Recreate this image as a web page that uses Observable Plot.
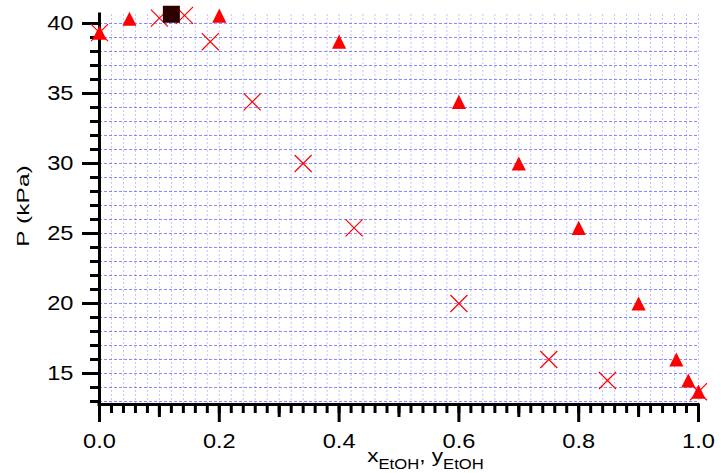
<!DOCTYPE html>
<html><head><meta charset="utf-8">
<script src="https://cdn.jsdelivr.net/npm/d3@7"></script>
<script src="https://cdn.jsdelivr.net/npm/@observablehq/plot@0.6"></script>
<style>body{margin:0;background:#fff}</style>
</head><body><div id="chart"></div>
<script>
// liquid composition x_EtOH (crosses)
const liquidX = [0, 0.1, 0.142, 0.185, 0.255, 0.34, 0.425, 0.6, 0.75, 0.848, 1.0];
const liquidP = [39.35, 40.38, 40.58, 38.7, 34.4, 30.0, 25.4, 20.0, 16.0, 14.5, 13.7];
// vapour composition y_EtOH (triangles)
const vaporY = [0, 0.05, 0.2, 0.4, 0.6, 0.7, 0.8, 0.9, 0.963, 0.983, 1.0];
const vaporP = [39.35, 40.34, 40.56, 38.7, 34.4, 30.0, 25.4, 20.0, 16.0, 14.5, 13.7];
// azeotrope point (square)
const azeoX = [0.12];
const azeoP = [40.66];
// ticks
const xTickMajor = [0, 0.2, 0.4, 0.6, 0.8, 1.0];
const xTickMid = [0.1, 0.3, 0.5, 0.7, 0.9];
const yTickMajor = [15, 20, 25, 30, 35, 40];
const xDomain = [0, 1];
const yDomain = [12.786, 40.643];

const liquid = liquidX.map((x, i) => ({x, p: liquidP[i]}));
const vapor = vaporY.map((x, i) => ({x, p: vaporP[i]}));
const azeo = azeoX.map((x, i) => ({x, p: azeoP[i]}));

const triangleBox = {
  draw(ctx, size) {
    const s = Math.sqrt(size) / 2;
    ctx.moveTo(0, -s);
    ctx.lineTo(s, s);
    ctx.lineTo(-s, s);
    ctx.closePath();
  }
};

const plot = Plot.plot({
  width: 721, height: 473,
  marginLeft: 99, marginRight: 23, marginTop: 14, marginBottom: 69,
  x: {domain: xDomain},
  y: {domain: yDomain},
  style: {fontFamily: "'Liberation Sans', Arial, sans-serif", fontSize: "20px", background: "#fff", color: "#000"},
  marks: [
    Plot.gridX({interval: 0.02, stroke: "#9a9aff", strokeOpacity: 0.6, strokeDasharray: "2,2"}),
    Plot.gridY({interval: 1, stroke: "#6262ff", strokeOpacity: 0.75, strokeDasharray: "3,2"}),
    Plot.axisX({interval: 0.02, tickSize: 9, strokeWidth: 3, tickFormat: () => "", label: null}),
    Plot.axisX({ticks: xTickMid, tickSize: 13, strokeWidth: 3, tickFormat: () => "", label: null}),
    Plot.axisX({ticks: xTickMajor, tickSize: 18, strokeWidth: 3, tickFormat: () => "", label: null}),
    Plot.axisY({interval: 1, tickSize: 9, strokeWidth: 3, tickFormat: () => "", label: null}),
    Plot.axisY({ticks: yTickMajor, tickSize: 17, strokeWidth: 3, tickFormat: () => "", label: null}),
    Plot.text(xTickMajor, {x: d => d, frameAnchor: "bottom", dy: 43, text: d => d3.format(".1f")(d), fill: "#000", className: "ticklab"}),
    Plot.text(yTickMajor, {y: d => d, frameAnchor: "left", dx: -26, textAnchor: "end", text: d => String(d), fill: "#000", className: "ticklab"}),
    Plot.ruleX([xDomain[0]], {strokeWidth: 3, strokeLinecap: "square"}),
    Plot.ruleY([yDomain[0]], {strokeWidth: 3, strokeLinecap: "square"}),
    Plot.dot(vapor, {x: "x", y: "p", symbol: triangleBox, r: 8, fill: "#ff0000", stroke: "none"}),
    Plot.dot(liquid, {x: "x", y: "p", symbol: "times", r: 7.8, stroke: "#ff0000", strokeWidth: 1.2}),
    Plot.dot(azeo, {x: "x", y: "p", symbol: "square", r: 9.6, fill: "#2e0000", stroke: "none"})
  ]
});
document.getElementById("chart").appendChild(plot);

const svg = d3.select(plot);
// widen tick labels slightly to match the wide Helvetica of the original
svg.selectAll('g.ticklab text').each(function() {
  const t = this.getAttribute("transform") || "";
  this.setAttribute("transform", t + " scale(1.18,1)");
});

const xs = plot.scale("x"), ys = plot.scale("y");
const xMid = (xs.apply(xDomain[0]) + xs.apply(xDomain[1])) / 2;
const yMid = (ys.apply(yDomain[0]) + ys.apply(yDomain[1])) / 2;

const xl = svg.append("text")
  .attr("transform", `translate(${xMid + 27},462) scale(1.19,1)`)
  .attr("text-anchor", "middle")
  .attr("font-size", 19)
  .attr("fill", "#000");
xl.append("tspan").text("x");
xl.append("tspan").attr("font-size", 14).attr("dy", 7).text("EtOH");
xl.append("tspan").attr("dy", -7).text(", y");
xl.append("tspan").attr("font-size", 14).attr("dy", 7).text("EtOH");

svg.append("text")
  .attr("transform", `translate(28.5,${yMid - 3}) rotate(-90) scale(1.49,1)`)
  .attr("text-anchor", "middle")
  .attr("font-size", 16.5)
  .attr("fill", "#000")
  .text("P (kPa)");
</script>
</body></html>
